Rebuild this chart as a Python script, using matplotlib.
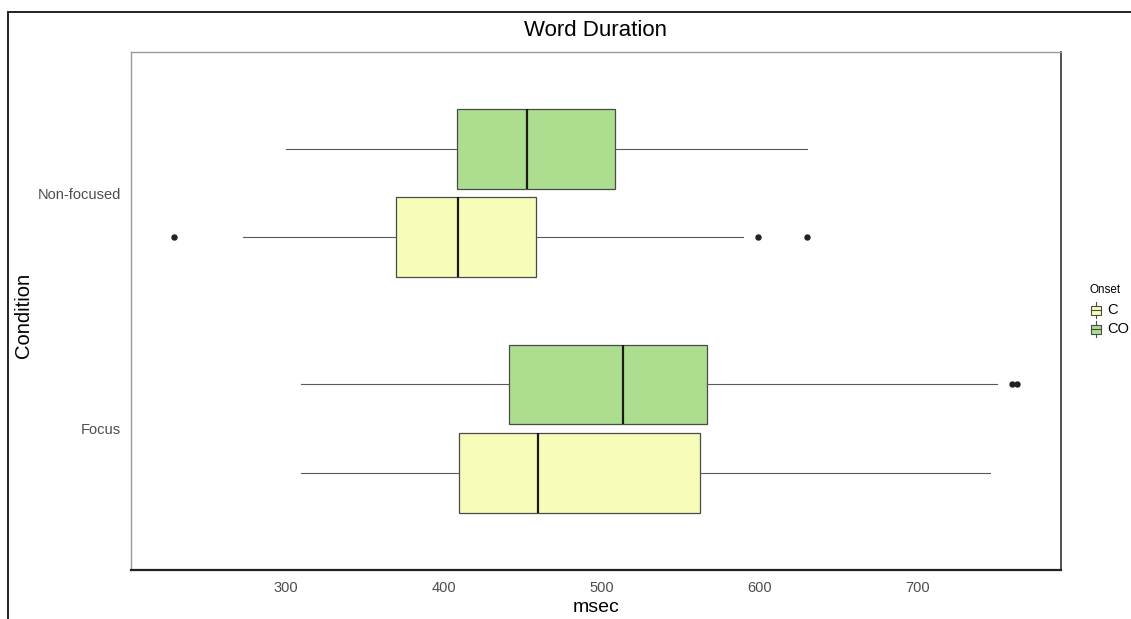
import matplotlib
matplotlib.use("Agg")
import matplotlib.pyplot as plt
from matplotlib.patches import Rectangle
from matplotlib.lines import Line2D

plt.rcParams['font.family'] = ['Liberation Sans', 'DejaVu Sans']

# --- data (msec) ---
conditions = ['Focus', 'Non-focused']
onsets = ['C', 'CO']
fills = ['#F7FCB9', '#ADDD8E']

c_q1 = [409.3, 369.4]
c_med = [459.6, 409.1]
c_q3 = [562.3, 458.2]
c_lo = [309.3, 272.7]
c_hi = [745.4, 589.0]
c_out = [[], [228.9, 598.6, 629.5]]

co_q1 = [441.3, 408.4]
co_med = [513.1, 452.3]
co_q3 = [566.2, 508.4]
co_lo = [309.3, 300.0]
co_hi = [750.0, 629.8]
co_out = [[759.5, 762.6], []]

xticks = [300, 400, 500, 600, 700]

W, H = 1131, 619
fig = plt.figure(figsize=(W / 100, H / 100), dpi=100)
ax = fig.add_axes([131 / W, (H - 570) / H, 930 / W, 518.3 / H])

series = [(c_q1, c_med, c_q3, c_lo, c_hi, c_out),
          (co_q1, co_med, co_q3, co_lo, co_hi, co_out)]
offsets = [-0.1875, 0.1875]

for k, (q1, med, q3, lo, hi, out) in enumerate(series):
    stats = []
    for i in range(len(conditions)):
        stats.append(dict(q1=q1[i], med=med[i], q3=q3[i],
                          whislo=lo[i], whishi=hi[i], fliers=out[i]))
    pos = [i + 1 + offsets[k] for i in range(len(conditions))]
    ax.bxp(stats, positions=pos, widths=0.3375, vert=False,
           patch_artist=True, showcaps=False,
           boxprops=dict(facecolor=fills[k], edgecolor='#4a4a4a', linewidth=0.9),
           whiskerprops=dict(color='#5a5a5a', linewidth=0.8),
           medianprops=dict(color='#1a1a1a', linewidth=1.6),
           flierprops=dict(marker='o', markersize=3.6, markerfacecolor='#222222',
                           markeredgecolor='#222222', linestyle='none'))

ax.set_xlim(202, 790.5)
ax.set_ylim(0.4, 2.6)
ax.set_xticks(xticks)
ax.set_xticklabels([str(t) for t in xticks])
ax.set_yticks([1, 2])
ax.set_yticklabels(conditions)
ax.tick_params(axis='both', length=0, labelsize=10.5, labelcolor='#4D4D4D')
ax.tick_params(axis='x', pad=8)
ax.tick_params(axis='y', pad=7)

for side in ['left', 'top']:
    ax.spines[side].set_color('#999999')
    ax.spines[side].set_linewidth(1.0)
ax.spines['right'].set_color('#333333')
ax.spines['right'].set_linewidth(1.2)
ax.spines['bottom'].set_color('#222222')
ax.spines['bottom'].set_linewidth(1.6)

ax.set_xlabel('msec', fontsize=14, labelpad=3)
ax.set_ylabel('Condition', fontsize=14.5)
ax.yaxis.set_label_coords((33 - 131) / 930, (570 - 315) / 518.3)
ax.set_title('Word Duration', fontsize=16, pad=11)

# legend drawn by hand (cut off at right edge like the screenshot)
fig.text(1089 / W, 1 - 290 / H, 'Onset', fontsize=8.4, va='center', ha='left')
key_y = [310, 329]
for lab, col, ky in zip(onsets, fills, key_y):
    fig.add_artist(Rectangle((1090.5 / W, 1 - (ky + 4.5) / H), 10 / W, 9 / H,
                             transform=fig.transFigure, facecolor=col,
                             edgecolor='#4a4a4a', linewidth=0.8))
    fig.add_artist(Line2D([1095.5 / W, 1095.5 / W], [1 - (ky - 8) / H, 1 - (ky - 4.5) / H],
                          transform=fig.transFigure, color='#4a4a4a', linewidth=0.8))
    fig.add_artist(Line2D([1095.5 / W, 1095.5 / W], [1 - (ky + 4.5) / H, 1 - (ky + 8) / H],
                          transform=fig.transFigure, color='#4a4a4a', linewidth=0.8))
    fig.add_artist(Line2D([1090.5 / W, 1100.5 / W], [1 - ky / H, 1 - ky / H],
                          transform=fig.transFigure, color='#4a4a4a', linewidth=0.8))
    fig.text(1107 / W, 1 - ky / H, lab, fontsize=10.5, va='center', ha='left')

# outer frame of the screenshot
fig.add_artist(Rectangle((8 / W, -0.1), 1.2, 1 - 11.7 / H + 0.1,
                         transform=fig.transFigure, fill=False,
                         edgecolor='#222222', linewidth=1.4))

fig.savefig('out.png', dpi=100)
